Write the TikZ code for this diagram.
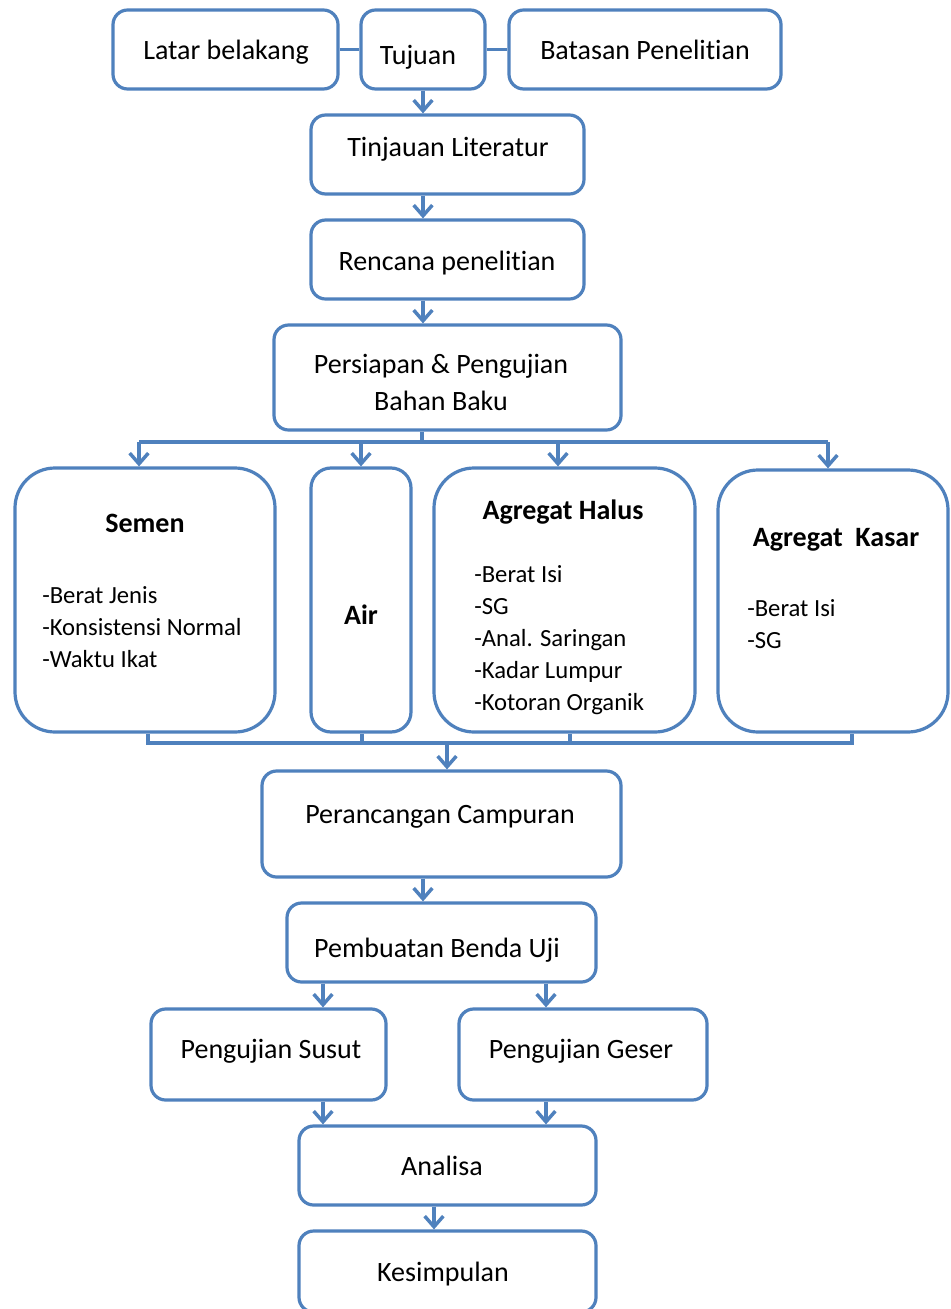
\documentclass[tikz,border=0pt]{standalone}
\usepackage{fontspec}
\setmainfont[Ligatures=NoCommon]{Carlito}
\usetikzlibrary{arrows.meta,fit}
\definecolor{ob}{HTML}{4F81BD}
\begin{document}
\begin{tikzpicture}[x=0.75pt,y=-0.75pt,
 box/.style={draw=ob, line width=2.4pt, rounded corners=11pt, inner sep=0pt, fill=white},
 bigbox/.style={box, rounded corners=30pt},
 txt/.style={font=\fontsize{21}{26}\selectfont, inner sep=0pt, text height=14.7pt, text depth=4.2pt, yshift=-2.2pt},
 btxt/.style={txt, font=\fontsize{21}{26}\selectfont\bfseries},
 itm/.style={font=\fontsize{18.5}{24}\selectfont, inner sep=0pt, anchor=west, text height=13pt, text depth=3.7pt, yshift=-1.6pt},
 line/.style={draw=ob, line width=2.4pt},
 arr/.style={line, -{Straight Barb[length=8pt,width=14pt,line width=2.6pt]}},
]
\useasboundingbox (0,0) rectangle (950,1309);
\fill[white] (0,0) rectangle (950,1309);

% top row
\node[box, fit={(113,10) (338,89)}] (latar) {};
\node[box, fit={(361,10) (485,89)}] (tujuan) {};
\node[box, fit={(509,10) (781,89)}] (batasan) {};
\node[txt] (tlatar) at (226,50) {Latar belakang};
\node[txt] (ttujuan) at (418,55) {Tujuan};
\node[txt] (tbatasan) at (645,50) {Batasan Penelitian};
\draw[line] (latar.east) -- (tujuan.west |- latar.east);
\draw[line] (tujuan.east |- batasan.west) -- (batasan.west);

\node[box, fit={(311,115) (584,194)}] (tinjauan) {};
\node[txt] (ttinjauan) at (448,147) {Tinjauan Literatur};
\node[box, fit={(311,220) (584,299)}] (rencana) {};
\node[txt] (trencana) at (447,261) {Rencana penelitian};
\node[box, fit={(274,325) (621,430)}] (persiapan) {};
\node[txt] (tpers1) at (441,364) {Persiapan \& Pengujian};
\node[txt] (tpers2) at (441,401) {Bahan Baku};

\coordinate (colA) at (423,0);
\draw[arr] (tujuan.south -| colA) -- (tinjauan.north -| colA);
\draw[arr] (tinjauan.south -| colA) -- (rencana.north -| colA);
\draw[arr] (rencana.south -| colA) -- (persiapan.north -| colA);

% material boxes
\node[bigbox, fit={(15,468) (275,732)}] (semen) {};
\node[box, rounded corners=15pt, fit={(311,468) (411,732)}] (air) {};
\node[bigbox, fit={(434,468) (695,732)}] (halus) {};
\node[bigbox, fit={(718,470) (948,732)}] (kasar) {};

\node[btxt] (tsemen) at (145,523) {Semen};
\node[itm] (s1) at (42,595) {-Berat Jenis};
\node[itm] (s2) at (42,627) {-Konsistensi Normal};
\node[itm] (s3) at (42,659) {-Waktu Ikat};

\node[btxt] (tair) at (361,615) {Air};

\node[btxt] (thalus) at (563,510) {Agregat Halus};
\node[itm] (h1) at (474,574) {-Berat Isi};
\node[itm] (h2) at (474,606) {-SG};
\node[itm] (h3) at (474,638) {-Anal. Saringan};
\node[itm] (h4) at (474,670) {-Kadar Lumpur};
\node[itm] (h5) at (474,702) {-Kotoran Organik};

\node[btxt] (tkasar) at (836,537) {Agregat\ \ Kasar};
\node[itm] (k1) at (747,608) {-Berat Isi};
\node[itm] (k2) at (747,640) {-SG};

% top bus
\coordinate (busT) at (422,442);
\coordinate (busTL) at (139,442);
\coordinate (busTR) at (828,442);
\coordinate (busTH) at (558,442);
\draw[line] (persiapan.south -| busT) -- (busT);
\draw[line] (busTL) -- (busTR);
\draw[arr] (busTL) -- (semen.north -| busTL);
\draw[arr] (busT -| air.north) -- (air.north);
\draw[arr] (busTH) -- (halus.north -| busTH);
\draw[arr] (busTR) -- (kasar.north -| busTR);

% bottom bus
\coordinate (busBL) at (148,743);
\coordinate (busBR) at (852,743);
\coordinate (busBA) at (362,743);
\coordinate (busBH) at (570,743);
\coordinate (busBM) at (447,743);
\draw[line] (semen.south -| busBL) -- (busBL) -- (busBR) -- (kasar.south -| busBR);
\draw[line] (air.south -| busBA) -- (busBA);
\draw[line] (halus.south -| busBH) -- (busBH);

\node[box, fit={(262,771) (621,877)}] (peran) {};
\node[txt] (tperan) at (440,814) {Perancangan Campuran};
\draw[arr] (busBM) -- (peran.north -| busBM);

\node[box, fit={(287,903) (596,982)}] (pemb) {};
\node[txt] (tpemb) at (437,948) {Pembuatan Benda Uji};
\draw[arr] (peran.south -| colA) -- (pemb.north -| colA);

\node[box, fit={(151,1009) (386,1100)}] (susut) {};
\node[txt] (tsusut) at (271,1049) {Pengujian Susut};
\node[box, fit={(459,1009) (707,1100)}] (geser) {};
\node[txt] (tgeser) at (581,1049) {Pengujian Geser};

\coordinate (colL) at (323,0);
\coordinate (colR) at (546,0);
\draw[arr] (pemb.south -| colL) -- (susut.north -| colL);
\draw[arr] (pemb.south -| colR) -- (geser.north -| colR);

\node[box, fit={(299,1126) (596,1205)}] (analisa) {};
\node[txt] (tanalisa) at (442,1166) {Analisa};
\draw[arr] (susut.south -| colL) -- (analisa.north -| colL);
\draw[arr] (geser.south -| colR) -- (analisa.north -| colR);

\node[box, fit={(299,1231) (596,1312)}] (kesim) {};
\node[txt] (tkesim) at (443,1272) {Kesimpulan};
\coordinate (colK) at (434,0);
\draw[arr] (analisa.south -| colK) -- (kesim.north -| colK);
\end{tikzpicture}
\end{document}
